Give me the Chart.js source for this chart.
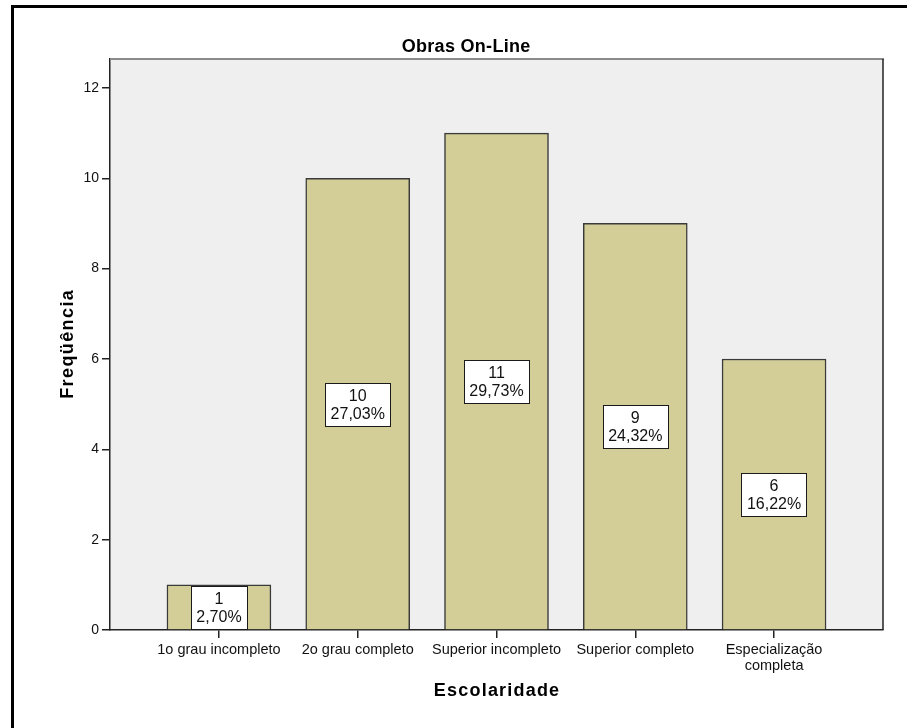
<!DOCTYPE html>
<html>
<head>
<meta charset="utf-8">
<script src="https://cdn.jsdelivr.net/npm/chart.js@4.4.1/dist/chart.umd.min.js"></script>
<style>
  html, body { margin: 0; padding: 0; background: #ffffff; }
  #wrap { position: relative; width: 907px; height: 728px; }
</style>
</head>
<body>
<div id="wrap"><canvas id="chart" width="907" height="728"></canvas></div>
<script>
// Escolaridade dos respondentes - Obras On-Line
const categories = ['1o grau incompleto', '2o grau completo', 'Superior incompleto', 'Superior completo', ['Especialização', 'completa']];
const frequencies = [1, 10, 11, 9, 6];
const yTickValues = [0, 2, 4, 6, 8, 10, 12];

const chartTitle = 'Obras On-Line';
const xTitle = 'Escolaridade';
const yTitle = 'Freqüência';

const total = frequencies.reduce((a, b) => a + b, 0);
const percentText = v => (v / total * 100).toFixed(2).replace('.', ',') + '%';

const FONT = "'Liberation Sans', Arial, sans-serif";

// centred text with extra letter spacing
function spacedText(ctx, text, x, y, spacing) {
  ctx.letterSpacing = spacing + 'px';
  ctx.fillText(text, x + spacing / 2, y);
  ctx.letterSpacing = '0px';
}

// plot background, frame and the outer border
const framePlugin = {
  id: 'frame',
  beforeDraw(chart) {
    const { ctx, chartArea: a } = chart;
    ctx.save();
    ctx.fillStyle = '#efefef';
    ctx.fillRect(a.left, a.top, a.right - a.left, a.bottom - a.top);
    ctx.restore();
  },
  afterDraw(chart) {
    const { ctx, chartArea: a } = chart;
    ctx.save();
    // top edge of the plot (grey) and right edge (dark)
    ctx.strokeStyle = '#8a8a8a';
    ctx.lineWidth = 2;
    ctx.beginPath();
    ctx.moveTo(a.left, a.top);
    ctx.lineTo(a.right + 1, a.top);
    ctx.stroke();
    ctx.strokeStyle = '#222222';
    ctx.lineWidth = 1.5;
    ctx.beginPath();
    ctx.moveTo(a.right, a.top);
    ctx.lineTo(a.right, a.bottom);
    ctx.stroke();
    // outer border
    ctx.fillStyle = '#000000';
    ctx.fillRect(11, 5, 3, 723);
    ctx.fillRect(11, 5, 896, 3);
    // titles
    ctx.fillStyle = '#000000';
    ctx.textAlign = 'center';
    ctx.textBaseline = 'middle';
    ctx.font = 'bold 18px ' + FONT;
    spacedText(ctx, chartTitle, 466, 47, 0.3);
    ctx.font = 'bold 18px ' + FONT;
    spacedText(ctx, xTitle, (a.left + a.right) / 2, 691, 1.2);
    ctx.translate(68, (a.top + a.bottom) / 2);
    ctx.rotate(-Math.PI / 2);
    spacedText(ctx, yTitle, 0, 0, 1.4);
    ctx.restore();
  }
};

// count and percentage box in the middle of each bar
const valueBoxPlugin = {
  id: 'valueBoxes',
  afterDatasetsDraw(chart) {
    const { ctx } = chart;
    const yScale = chart.scales.y;
    const meta = chart.getDatasetMeta(0);
    ctx.save();
    ctx.font = '16px ' + FONT;
    ctx.textAlign = 'center';
    ctx.textBaseline = 'middle';
    const lineH = 18;
    meta.data.forEach((bar, i) => {
      const v = frequencies[i];
      const lines = [String(v), percentText(v)];
      const w = Math.max(...lines.map(t => ctx.measureText(t).width)) + 11;
      const h = lineH * 2 + 7;
      const cx = bar.x;
      const cy = yScale.getPixelForValue(v / 2);
      const x0 = Math.round(cx - w / 2) + 0.5;
      const y0 = Math.round(cy - h / 2) + 0.5;
      ctx.fillStyle = '#ffffff';
      ctx.fillRect(x0, y0, Math.round(w), h);
      ctx.strokeStyle = '#1a1a1a';
      ctx.lineWidth = 1;
      ctx.strokeRect(x0, y0, Math.round(w), h);
      ctx.fillStyle = '#111111';
      ctx.fillText(lines[0], cx, cy - lineH / 2 + 1);
      ctx.fillText(lines[1], cx, cy + lineH / 2 + 1);
    });
    ctx.restore();
  }
};

new Chart(document.getElementById('chart'), {
  type: 'bar',
  data: {
    datasets: [{
      data: frequencies.map((v, i) => ({ x: i, y: v })),
      backgroundColor: '#d3ce97',
      borderColor: '#3a3a3a',
      borderWidth: 1.5,
      barThickness: 104
    }]
  },
  options: {
    responsive: false,
    animation: false,
    layout: { padding: { top: 59, right: 24, left: 0, bottom: 0 } },
    plugins: {
      legend: { display: false },
      title: { display: false },
      tooltip: { enabled: false }
    },
    scales: {
      x: {
        type: 'linear',
        offset: false,
        min: -0.785,
        max: 4.785,
        afterBuildTicks: s => { s.ticks = categories.map((_, i) => ({ value: i })); },
        afterFit: s => { s.height = 98; },
        ticks: {
          autoSkip: false,
          maxRotation: 0,
          padding: 4,
          color: '#111111',
          font: { family: FONT, size: 14.5, lineHeight: 1.1 },
          callback: v => categories[v]
        },
        grid: { offset: false, drawOnChartArea: false, drawTicks: true, tickLength: 8, color: '#222222', lineWidth: 1.5 },
        border: { color: '#222222', width: 1.5 }
      },
      y: {
        min: 0,
        max: 12.64,
        afterBuildTicks: s => { s.ticks = yTickValues.map(v => ({ value: v })); },
        afterFit: s => { s.width = 110; },
        ticks: {
          padding: 3,
          color: '#111111',
          font: { family: FONT, size: 14 }
        },
        grid: { drawOnChartArea: false, drawTicks: true, tickLength: 8, color: '#222222', lineWidth: 1.5 },
        border: { color: '#222222', width: 1.5 }
      }
    }
  },
  plugins: [framePlugin, valueBoxPlugin]
});
</script>
</body>
</html>
